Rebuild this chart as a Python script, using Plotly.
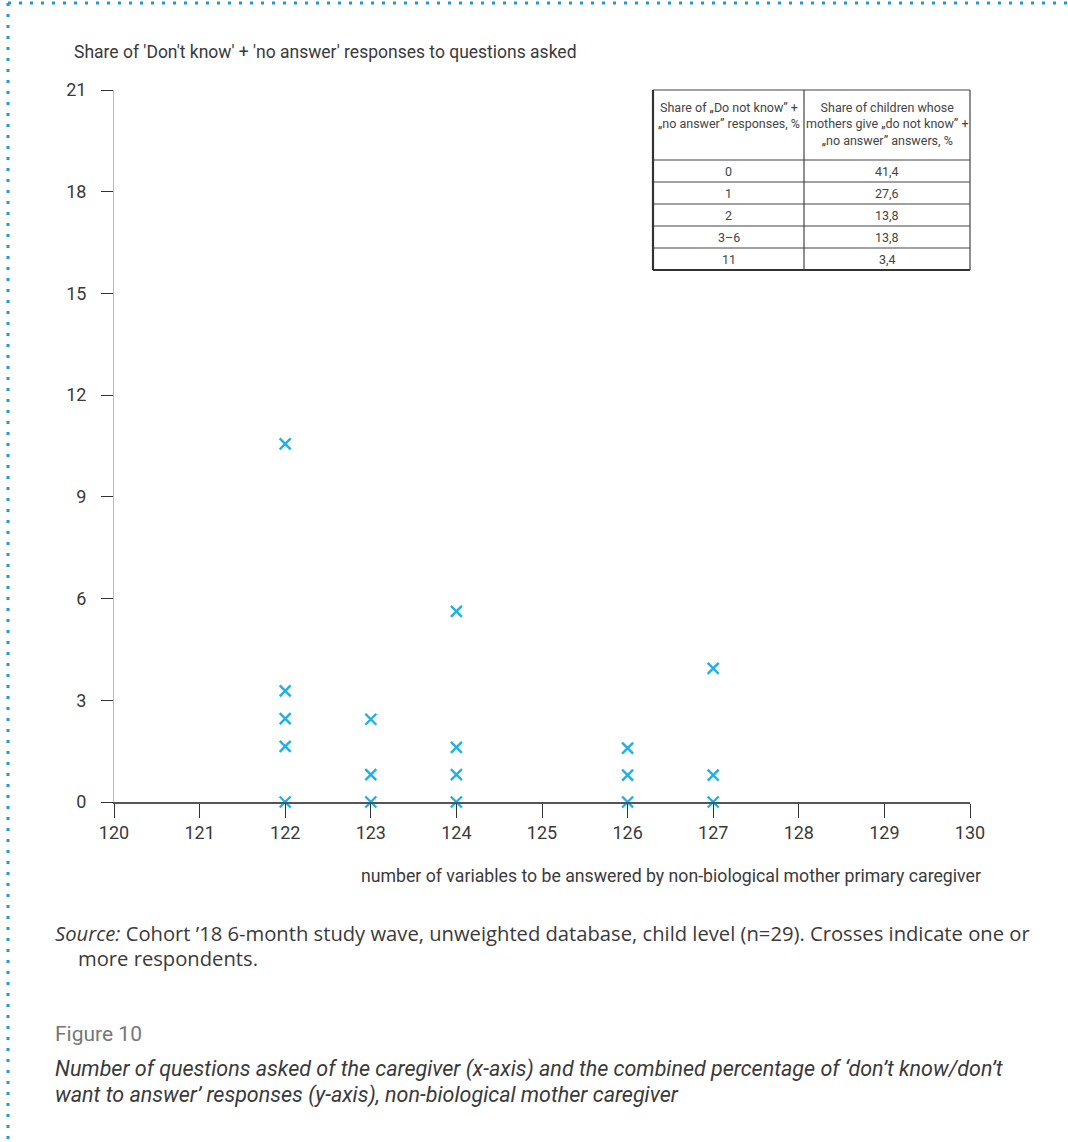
import plotly.graph_objects as go

# ---- data ----
x_vals = [122, 122, 122, 122, 122,
          123, 123, 123,
          124, 124, 124, 124,
          126, 126, 126,
          127, 127, 127]
y_vals = [10.56, 3.28, 2.46, 1.64, 0.0,
          2.44, 0.81, 0.0,
          5.62, 1.61, 0.81, 0.0,
          1.59, 0.79, 0.0,
          3.94, 0.79, 0.0]

x_ticks = [120, 121, 122, 123, 124, 125, 126, 127, 128, 129, 130]
y_ticks = [0, 3, 6, 9, 12, 15, 18, 21]

table_col1 = ["0", "1", "2", "3–6", "11"]
table_col2 = ["41,4", "27,6", "13,8", "13,8", "3,4"]
table_header = ["Share of „Do not know” +<br>„no answer” responses, %",
                "Share of children whose<br>mothers give „do not know” +<br>„no answer” answers, %"]

FONT = "Liberation Sans Narrow, Roboto, sans-serif"
TXT = "#3a3a3a"
BLUE = "#1fb0e6"

W, H = 1068, 1142
L, R, T, B = 114, 98, 90, 340
pw, ph = W - L - R, H - T - B


def px(xp):
    return (xp - L) / pw


def py(yp):
    return 1 - (yp - T) / ph


fig = go.Figure()

fig.add_trace(go.Scatter(
    x=x_vals, y=y_vals, mode="markers",
    marker=dict(symbol="x-thin-open", size=11, color=BLUE,
                line=dict(color=BLUE, width=2.4)),
    showlegend=False, cliponaxis=False))

fig.update_layout(
    width=W, height=H,
    margin=dict(l=L, r=R, t=T, b=B),
    paper_bgcolor="white", plot_bgcolor="white",
    font=dict(family=FONT, color=TXT),
    xaxis=dict(range=[120, 130], tickvals=x_ticks, ticks="outside", ticklen=14,
               tickcolor="#333333", tickwidth=1.3, showgrid=False, zeroline=False,
               showline=True, linecolor="#555555", linewidth=1.5,
               ticklabelstandoff=0,
               tickfont=dict(size=18, color=TXT, family=FONT)),
    yaxis=dict(range=[0, 21], tickvals=y_ticks, ticks="outside", ticklen=12,
               tickcolor="#333333", tickwidth=1.3, showgrid=False, zeroline=False,
               showline=True, linecolor="#bbbbbb", linewidth=1,
               ticklabelstandoff=11,
               tickfont=dict(size=18, color=TXT, family=FONT)),
)

# ---- inset table (shapes + annotations built from the arrays) ----
tx0, tx1, tdiv = 653, 970, 804
ty0, thead, rowh = 90, 160, 22
ty1 = thead + rowh * len(table_col1)
LC = "#444444"


def hline(y, x0=tx0, x1=tx1, w=1.2, c=LC):
    fig.add_shape(type="line", xref="paper", yref="paper",
                  x0=px(x0), x1=px(x1), y0=py(y), y1=py(y), line=dict(color=c, width=w))


def vline(x, y0=ty0, y1=ty1, w=1.2, c=LC):
    fig.add_shape(type="line", xref="paper", yref="paper",
                  x0=px(x), x1=px(x), y0=py(y0), y1=py(y1), line=dict(color=c, width=w))


fig.add_shape(type="rect", xref="paper", yref="paper", layer="below",
              x0=px(tx0), x1=px(tx1), y0=py(ty1), y1=py(ty0),
              fillcolor="white", line=dict(width=0))
hline(ty0)
hline(thead)
for i in range(1, len(table_col1)):
    hline(thead + rowh * i)
hline(ty1, w=2.2, c="#333333")
vline(tx0, w=2.2, c="#333333")
vline(tdiv)
vline(tx1)

hdr_ann = [((tx0 + tdiv) / 2, table_header[0]), ((tdiv + tx1) / 2, table_header[1])]
for cx, t in hdr_ann:
    fig.add_annotation(x=px(cx), y=py(98), text=t, align="center",
                       xref="paper", yref="paper", showarrow=False,
                       xanchor="center", yanchor="top",
                       font=dict(size=12.5, color="#444444", family=FONT))
for i, (a, b) in enumerate(zip(table_col1, table_col2)):
    cy = thead + rowh * i + rowh / 2
    for cx, t in (((tx0 + tdiv) / 2, a), ((tdiv + tx1) / 2, b)):
        fig.add_annotation(x=px(cx), y=py(cy), text=t, xref="paper", yref="paper",
                           showarrow=False, xanchor="center", yanchor="middle",
                           font=dict(size=12.5, color="#444444", family=FONT))

# dotted frame
fig.add_shape(type="line", xref="paper", yref="paper",
              x0=px(8), x1=px(1068), y0=py(3), y1=py(3),
              line=dict(color="#1a9ad6", width=3, dash="3px,8px"))
fig.add_shape(type="line", xref="paper", yref="paper",
              x0=px(8), x1=px(8), y0=py(3), y1=py(1142),
              line=dict(color="#1a9ad6", width=3, dash="3px,8px"))

ann = [
    dict(x=px(72), y=py(52), text="Share of 'Don't know' + 'no answer' responses to questions asked",
         xanchor="left", yanchor="middle", font=dict(size=17.5)),
    dict(x=px(983), y=py(876), text="number of variables to be answered by non-biological mother primary caregiver",
         xanchor="right", yanchor="middle", font=dict(size=17.7)),
    dict(x=px(53), y=py(933), text="<i>Source:</i> Cohort ’18 6-month study wave, unweighted database, child level (n=29). Crosses indicate one or",
         xanchor="left", yanchor="middle", font=dict(size=20.2, family="Open Sans, sans-serif")),
    dict(x=px(76), y=py(958), text="more respondents.",
         xanchor="left", yanchor="middle", font=dict(size=20.2, family="Open Sans, sans-serif")),
    dict(x=px(53), y=py(1034), text="Figure 10",
         xanchor="left", yanchor="middle", font=dict(size=21, color="#777777")),
    dict(x=px(53), y=py(1069), text="<i>Number of questions asked of the caregiver (x-axis) and the combined percentage of ‘don’t know/don’t</i>",
         xanchor="left", yanchor="middle", font=dict(size=21.5)),
    dict(x=px(53), y=py(1095), text="<i>want to answer’ responses (y-axis), non-biological mother caregiver</i>",
         xanchor="left", yanchor="middle", font=dict(size=21.5)),
]
for a in ann:
    a.update(xref="paper", yref="paper", showarrow=False)
    fig.add_annotation(**a)

fig.write_html("out.html", config={"displayModeBar": False},
               post_script="document.body.style.margin='0';")
